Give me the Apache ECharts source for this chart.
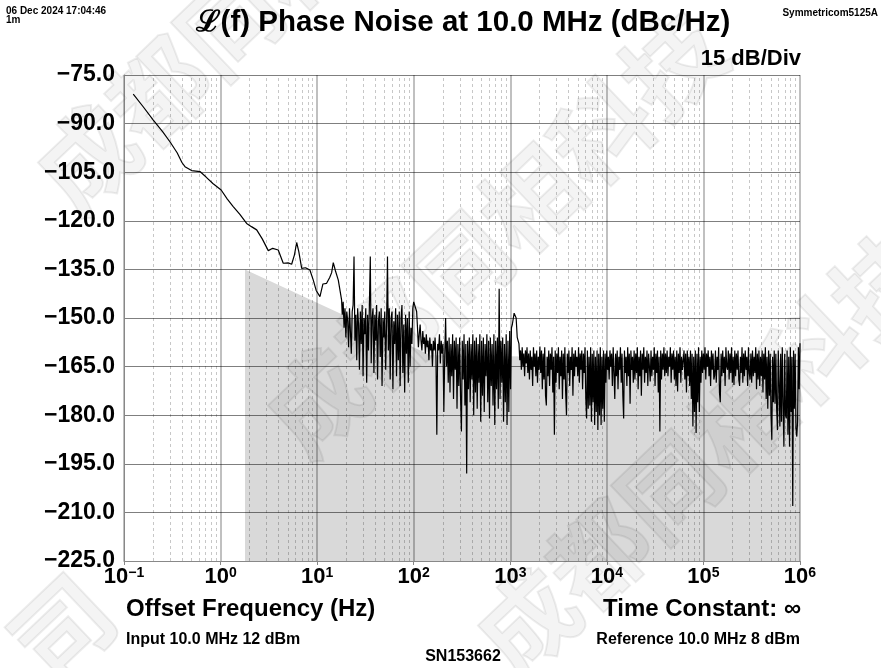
<!DOCTYPE html>
<html><head><meta charset="utf-8">
<script src="https://cdn.jsdelivr.net/npm/echarts@6/dist/echarts.min.js"></script>
<style>html,body{margin:0;padding:0;background:#fff}#c{width:881px;height:668px}</style>
</head><body><div id="c"></div>
<script>
const F = '"Liberation Sans", Arial, Helvetica, sans-serif';

// smooth low-offset part of the trace
const smoothFreqHz = [0.1247,0.158,0.201,0.251,0.299,0.355,0.398,0.428,0.501,0.612,0.708,0.832,1.014,1.175,1.352,1.585,1.862,2.089,2.366,2.692,3.119,3.467,3.954,4.457,5.012,5.445,5.821,6.138,6.457,6.918,7.586,8.414,9.120,9.772,10.69,11.48,12.53,13.49,14.13,14.69,15.49,16.56,17.91];
const smoothDbc = [-80.9,-84.8,-88.9,-92.5,-95.6,-99.0,-102.0,-103.3,-104.5,-104.8,-106.5,-108.5,-110.5,-113.3,-115.6,-118.0,-120.8,-121.8,-122.8,-125.5,-129.2,-128.5,-129.0,-133.1,-133.0,-133.4,-130.5,-126.7,-129.5,-134.7,-134.5,-135.2,-138.3,-141.5,-143.4,-139.5,-139.3,-137.5,-136.0,-132.9,-135.5,-138.3,-144.4];

// noisy segment 18 Hz .. 100 Hz (log-spaced readings)
const noiseBStartHz = 18.2, noiseBEndHz = 100;
const noiseBDbc = [
-149,-145,-153,-147,-156,-148,-151,-159,-147,-154,
-161,-148,-146,-131,-157,-149,-163,-147,-152,-166,
-148,-158,-146,-168,-150,-155,-147,-170,-149,-160,
-146,-131,-164,-150,-147,-167,-149,-157,-146,-169,
-151,-148,-162,-147,-171,-150,-156,-148,-166,-152,
-131,-160,-147,-169,-150,-148,-172,-151,-158,-147,
-168,-149,-163,-148,-171,-150,-146,-167,-152,-173,
-149,-161,-150,-170,-148,-165,-153,-158,-147,-145];

const bridge1FreqHz = [102.3];
const bridge1Dbc = [-144.4];

// noisy segment 107 Hz .. 1.05 kHz
const noiseCStartHz = 107.2, noiseCEndHz = 1050;
const noiseCDbc = [
-148,-153,-159,-155,-152,-157,-160,-154,-158,-156,
-161,-155,-159,-157,-163,-156,-160,-158,-165,-157,
-160,-156,-162,-186,-158,-160,-155,-164,-157,-161,
-158,-179,-162,-150,-165,-157,-170,-156,-173,-158,
-168,-155,-175,-157,-166,-156,-178,-158,-171,-156,
-174,-185,-157,-169,-155,-177,-158,-198,-157,-172,
-156,-176,-158,-169,-155,-180,-157,-173,-156,-178,
-158,-170,-155,-182,-157,-174,-156,-179,-158,-168,
-155,-176,-157,-181,-156,-171,-158,-177,-155,-183,
-157,-172,-156,-178,-141,-175,-157,-170,-156,-182,
-158,-176,-155,-183,-157,-179,-154,-172,-153,-152];

const bridge2FreqHz = [1096,1122,1150,1180];
const bridge2Dbc = [-148.5,-148,-150,-156];

// noisy segment 1.23 kHz .. 1 MHz
const noiseDStartHz = 1230, noiseDEndHz = 1e6;
const noiseDDbc = [
-158,-163,-160,-166,-159,-165,-161,-168,-160,-164,
-159,-167,-161,-169,-160,-166,-162,-171,-159,-165,
-161,-168,-160,-170,-162,-166,-158.8,-167,-160,-172,
-161,-169,-159,-174,-177,-162,-168,-160,-171,-161,
-166,-159,-173,-162,-186,-160,-170,-161,-167,-159,
-172,-162,-168,-160,-175,-161,-169,-159,-173,-180,
-161,-167,-160,-171,-162,-166,-159,-174,-161,-168,
-160,-165,-162,-168,-159,-170,-161,-166,-160,-172,
-161,-167,-159,-175,-181,-160,-178,-162,-177,-159,
-182,-161,-176,-160,-183,-162,-179,-160,-184.6,-161,
-180,-159,-183,-162,-178,-160,-182,-161,-170,-160,
-166,-162,-169,-160,-165,-161,-171,-159,-167,-175,
-161,-168,-160,-172,-162,-166,-159,-170,-161,-174,
-181,-160,-167,-162,-171,-159,-168,-161,-176.5,-160,
-166,-162,-170,-160,-169,-161,-167,-159,-172,-162,
-168,-160,-174,-161,-166,-159,-170,-162,-167,-160,
-171,-161,-165,-169.6,-160,-168,-162,-166,-159,-171,
-161,-167,-160,-173,-162,-185,-160,-169,-161,-166,
-159,-168,-161,-167,-160,-168,-162,-165,-159,-170,
-161,-166,-160,-169,-162,-171,-160,-172.7,-161,-167,
-159,-170,-162,-166,-166.6,-160,-169,-161,-173,-160,
-168,-162,-171,-160,-175,-161,-183.5,-162,-179,-160,
-185.5,-161,-176,-159,-179,-162,-170,-160,-167,-161,
-166,-159,-169,-161,-165,-160,-168,-162,-171,-160,
-166,-161,-169,-167.6,-160,-170,-162,-166,-159,-173,
-176,-161,-168,-160,-167,-162,-171,-159,-165,-166,
-160,-169,-161,-167,-159,-170,-162,-170.7,-160,-168,
-161,-166,-160,-169,-171,-162,-167,-159,-170,-161,
-168,-160,-166,-162,-171,-159,-167,-169,-161,-170,
-160,-168,-162,-167,-159,-172,-161,-169,-160,-171,
-162,-168,-160,-173,-161,-169,-159,-175,-162,-178,
-160,-174,-161,-180,-187.6,-162,-176,-160,-176.5,-161,
-178,-184.6,-160,-170,-183.5,-161,-182,-159,-177,-189.7,
-161,-180,-181,-160,-186,-162,-189.7,-159,-179,-162,
-208,-160,-178,-161,-184,-186.6,-182,-159,-172,-157.8];

// grey spec mask
const maskFreqHz = [1.79, 150, 1e6];
const maskDbc = [-135, -161.5, -163];

const yMin = -225, yMax = -75, yStep = 15;
const xMinHz = 0.1, xMaxHz = 1e6;

const watermarkText = '成都同相科技';

function logGrid(f0, f1, n) {
  const a = Math.log10(f0), b = Math.log10(f1), out = [];
  for (let i = 0; i < n; i++) out.push(Math.pow(10, a + (b - a) * i / (n - 1)));
  return out;
}
function pairs(fs, vs) { return fs.map((f, i) => [f, vs[i]]); }

const trace = [].concat(
  pairs(smoothFreqHz, smoothDbc),
  pairs(logGrid(noiseBStartHz, noiseBEndHz, noiseBDbc.length), noiseBDbc),
  pairs(bridge1FreqHz, bridge1Dbc),
  pairs(logGrid(noiseCStartHz, noiseCEndHz, noiseCDbc.length), noiseCDbc),
  pairs(bridge2FreqHz, bridge2Dbc),
  pairs(logGrid(noiseDStartHz, noiseDEndHz, noiseDDbc.length), noiseDDbc)
);

const minorFreqs = [];
for (let e = -1; e < 6; e++) for (let m = 2; m <= 9; m++) minorFreqs.push(m * Math.pow(10, e));

function txt(x, y, text, size, align, extra) {
  return Object.assign({
    type: 'text', x: x, y: y, silent: true, z: 10,
    style: { text: text, font: 'bold ' + size + 'px ' + F, fill: '#000',
      align: align, textAlign: align, verticalAlign: 'middle', textVerticalAlign: 'middle' }
  }, extra || {});
}
function wm(x, y, text) {
  return {
    type: 'text', x: x, y: y, rotation: 0.76, silent: true, z: 50,
    style: { text: text || watermarkText, font: 'bold 98px "Noto Sans CJK SC"',
      fill: 'rgba(0,0,0,0.045)', stroke: 'rgba(0,0,0,0.07)', lineWidth: 2,
      align: 'center', textAlign: 'center', verticalAlign: 'middle', textVerticalAlign: 'middle' }
  };
}

const chart = echarts.init(document.getElementById('c'), null, { renderer: 'canvas' });
chart.setOption({
  animation: false,
  backgroundColor: '#fff',
  grid: { left: 124, right: 81, top: 75, bottom: 107, outerBoundsMode: 'none', containLabel: false },
  xAxis: {
    type: 'log', logBase: 10, min: xMinHz, max: xMaxHz, splitNumber: 7, z: 3,
    axisLine: { show: true, lineStyle: { color: '#888', width: 1 } },
    axisTick: { show: true, length: 4, lineStyle: { color: '#888' } },
    minorTick: { show: false }, minorSplitLine: { show: false },
    splitLine: { show: true, lineStyle: { color: 'rgba(0,0,0,0.33)', width: 1.5 } },
    axisLabel: {
      margin: 5, showMinLabel: true, showMaxLabel: true, hideOverlap: false,
      formatter: function (v) {
        const e = Math.round(Math.log10(v));
        return '{b|10}{s|' + (e < 0 ? '\u2212' + (-e) : e) + '}';
      },
      rich: {
        b: { fontSize: 22, fontWeight: 'bold', fontFamily: F, color: '#000' },
        s: { fontSize: 14, fontWeight: 'bold', fontFamily: F, color: '#000', verticalAlign: 'top' }
      }
    }
  },
  yAxis: {
    type: 'value', min: yMin, max: yMax, interval: yStep, z: 3,
    axisLine: { show: true, lineStyle: { color: '#888', width: 1 } },
    axisTick: { show: false },
    splitLine: { show: true, lineStyle: { color: 'rgba(0,0,0,0.5)', width: 1 } },
    axisLabel: {
      margin: 9, fontSize: 23, fontWeight: 'bold', fontFamily: F, color: '#000',
      showMinLabel: true, showMaxLabel: true,
      formatter: function (v) { return (v < 0 ? '\u2212' : '') + Math.abs(v).toFixed(1); }
    }
  },
  series: [
    {
      type: 'line', name: 'mask', z: 1, silent: true, symbol: 'none', showSymbol: false,
      data: pairs(maskFreqHz, maskDbc),
      lineStyle: { width: 0, color: '#d9d9d9' },
      areaStyle: { color: '#d9d9d9', opacity: 1, origin: 'start' },
      markLine: {
        silent: true, z: 2, symbol: ['none', 'none'], animation: false,
        label: { show: false },
        lineStyle: { type: [3, 3], color: 'rgba(0,0,0,0.22)', width: 1 },
        data: minorFreqs.map(f => ({ xAxis: f }))
      }
    },
    {
      type: 'line', name: 'L(f)', z: 6, silent: true, symbol: 'none', showSymbol: false,
      data: trace,
      lineStyle: { color: '#000', width: 1.2 }
    }
  ],
  graphic: [
    { type: 'text', x: 6, y: 7, silent: true, style: { text: '06 Dec 2024 17:04:46\n1m', font: 'bold 10px ' + F, fill: '#000', lineHeight: 9 } },
    txt(878, 13, 'Symmetricom5125A', 10, 'right'),
    txt(463, 23, '\u2112(f) Phase Noise at 10.0 MHz (dBc/Hz)', 29.5, 'center'),
    txt(801, 59, '15 dB/Div', 22, 'right'),
    txt(126, 609, 'Offset Frequency (Hz)', 24, 'left'),
    txt(801, 609, 'Time Constant: \u221E', 24, 'right'),
    txt(126, 640, 'Input 10.0 MHz 12 dBm', 16, 'left'),
    txt(800, 640, 'Reference 10.0 MHz 8 dBm', 16, 'right'),
    txt(463, 657, 'SN153662', 16, 'center'),
    wm(265, -10), wm(495, 233), wm(705, 453), wm(62, 628, '司')
  ]
});
</script>
</body></html>
